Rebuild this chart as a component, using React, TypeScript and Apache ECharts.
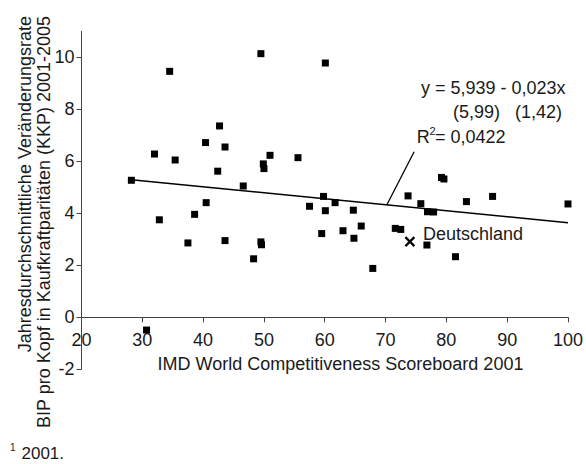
import React, { useEffect, useRef } from "react";
import * as echarts from "echarts";

const FONT = '"Liberation Sans", Arial, Helvetica, sans-serif';
const TEXT = "#1a1a1a";

// Tick labels
const xTicks = [20, 30, 40, 50, 60, 70, 80, 90, 100];
const yTicks = [-2, 0, 2, 4, 6, 8, 10];
const yMin = -2;
const yMax = 11;

// Countries: [IMD score 2001, avg. growth of GDP per capita (PPP) 2001-2005]
const countries: number[][] = [
  [28.2, 5.27], [30.7, -0.49], [32.0, 6.28], [32.8, 3.75], [34.5, 9.46],
  [35.4, 6.05], [37.5, 2.86], [38.6, 3.96], [40.4, 6.72], [40.5, 4.41],
  [42.4, 5.62], [42.7, 7.36], [43.6, 6.55], [43.6, 2.95], [46.6, 5.05],
  [48.3, 2.25], [49.5, 10.14], [49.5, 2.9], [49.6, 2.79], [49.9, 5.9],
  [50.0, 5.72], [51.0, 6.23], [55.6, 6.14], [57.5, 4.27], [59.5, 3.22],
  [59.8, 4.65], [60.1, 9.78], [60.1, 4.1], [61.7, 4.41], [63.0, 3.33],
  [64.7, 4.12], [64.8, 3.04], [66.0, 3.51], [67.9, 1.88], [71.6, 3.42],
  [72.5, 3.38], [73.7, 4.67], [75.8, 4.37], [76.8, 2.78], [76.9, 4.06],
  [77.9, 4.05], [79.2, 5.38], [79.6, 5.32], [81.5, 2.33], [83.3, 4.45],
  [87.6, 4.65], [100, 4.36],
];

const germany: number[][] = [[74.0, 2.91]];
const germanyLabel = "Deutschland";

// Regression line endpoints and leader line to the equation
const regressionLine: number[][] = [[28.2, 5.29], [100, 3.64]];
const leaderLine: number[][] = [[70.2, 4.32], [74.7, 6.37]];

const xTitle = "IMD World Competitiveness Scoreboard 2001";
const yTitle1 = "Jahresdurchschnittliche Veränderungsrate";
const yTitle2 = "BIP pro Kopf in Kaufkraftparitäten (KKP) 2001-2005";
const equation = "y = 5,939 - 0,023x";
const stdErrors = "(5,99)   (1,42)";
const r2Value = "= 0,0422";
const footnote = "2001.";

const GRID_TOP = 31.3;
const GRID_BOTTOM = 94.7;
const PLOT_H = 464 - GRID_TOP - GRID_BOTTOM;

export default function App() {
  const ref = useRef<HTMLDivElement>(null);

  useEffect(() => {
    if (!ref.current) return;
    const chart = echarts.init(ref.current, null, { renderer: "svg" });
    const txt = (extra: any) => ({
      type: "text",
      silent: true,
      ...extra,
      style: {
        fontFamily: FONT,
        fontSize: 18,
        fill: TEXT,
        ...extra.style,
      },
    });
    // place the x axis on y = 0 (distance of 0 from the bottom of the grid)
    const zeroOffset = -((0 - yMin) / (yMax - yMin)) * PLOT_H;
    chart.setOption({
      animation: false,
      backgroundColor: "#fff",
      textStyle: { fontFamily: FONT },
      grid: { left: 81.5, right: 16, top: GRID_TOP, bottom: GRID_BOTTOM, containLabel: false },
      xAxis: {
        type: "value",
        min: 20,
        max: 100,
        interval: 10,
        position: "bottom",
        offset: zeroOffset,
        splitLine: { show: false },
        axisLine: { onZero: false, lineStyle: { color: "#444", width: 1 } },
        axisTick: { show: true, length: 5, lineStyle: { color: "#444" }, customValues: xTicks },
        axisLabel: {
          color: TEXT,
          fontSize: 18,
          fontFamily: FONT,
          margin: 14,
          customValues: xTicks,
        },
      },
      yAxis: {
        type: "value",
        min: yMin,
        max: yMax,
        interval: 2,
        splitLine: { show: false },
        axisLine: { show: true, onZero: false, lineStyle: { color: "#444", width: 1 } },
        axisTick: { show: true, length: 5, lineStyle: { color: "#444" }, customValues: yTicks },
        axisLabel: {
          color: TEXT,
          fontSize: 18,
          fontFamily: FONT,
          margin: 7,
          customValues: yTicks,
        },
      },
      series: [
        {
          type: "line",
          data: regressionLine,
          symbol: "none",
          lineStyle: { color: "#000", width: 1.5 },
          z: 1,
          silent: true,
        },
        {
          type: "line",
          data: leaderLine,
          symbol: "none",
          lineStyle: { color: "#000", width: 1.3 },
          z: 1,
          silent: true,
        },
        {
          type: "scatter",
          data: countries,
          symbol: "rect",
          symbolSize: 7,
          itemStyle: { color: "#000", opacity: 1 },
          z: 3,
        },
        {
          type: "scatter",
          data: germany,
          symbol: "path://M0,0L10,10M10,0L0,10",
          symbolSize: 9,
          itemStyle: { color: "none", borderColor: "#000", borderWidth: 2.2, opacity: 1 },
          label: {
            show: true,
            position: "right",
            distance: 6,
            offset: [0, -8],
            formatter: germanyLabel,
            color: TEXT,
            opacity: 1,
            fontSize: 18,
            fontFamily: FONT,
          },
          z: 3,
        },
      ],
      graphic: [
        txt({ x: 340.5, y: 364, style: { text: xTitle, align: "center", verticalAlign: "middle" } }),
        txt({ x: 25, y: 16, rotation: Math.PI / 2, style: { text: yTitle1, align: "right", verticalAlign: "middle" } }),
        txt({ x: 44, y: 16, rotation: Math.PI / 2, style: { text: yTitle2, align: "right", verticalAlign: "middle" } }),
        txt({ x: 421, y: 88, style: { text: equation, align: "left", verticalAlign: "middle" } }),
        txt({ x: 453, y: 112, style: { text: stdErrors, align: "left", verticalAlign: "middle" } }),
        txt({ x: 416.7, y: 137.3, style: { text: "R", align: "left", verticalAlign: "middle" } }),
        txt({ x: 429.5, y: 131, style: { text: "2", fontSize: 11, align: "left", verticalAlign: "middle" } }),
        txt({ x: 435, y: 137.3, style: { text: r2Value, align: "left", verticalAlign: "middle" } }),
        txt({ x: 10, y: 447, style: { text: "1", fontSize: 10, align: "left", verticalAlign: "middle" } }),
        txt({ x: 21.5, y: 453, style: { text: footnote, fontSize: 17, align: "left", verticalAlign: "middle" } }),
      ],
    });
    return () => chart.dispose();
  }, []);

  return (
    <div
      ref={ref}
      style={{ position: "fixed", left: 0, top: 0, width: 586, height: 464, background: "#fff" }}
    />
  );
}
